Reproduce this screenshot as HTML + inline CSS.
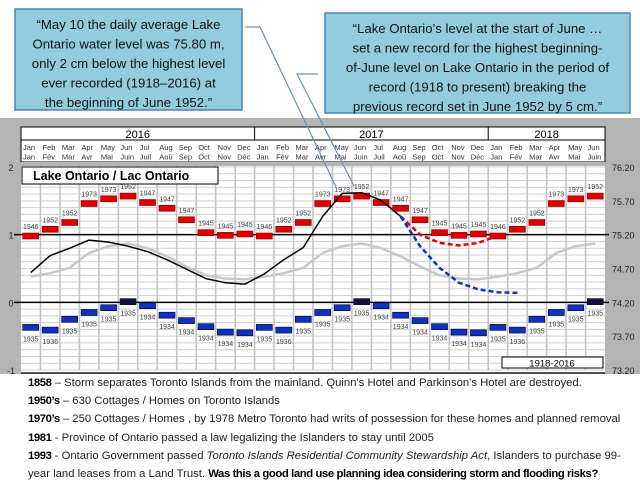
<!DOCTYPE html>
<html><head><meta charset="utf-8"><style>
html,body{margin:0;padding:0;background:#fff;width:640px;height:480px;overflow:hidden}
#root{position:relative;width:640px;height:480px}
svg{position:absolute;left:0;top:0}
.notes{position:absolute;left:28px;top:374px;font-family:"Liberation Sans",sans-serif;font-size:11.3px;line-height:18.2px;color:#222;letter-spacing:0px;white-space:nowrap}
.notes b{color:#000;letter-spacing:-0.4px}
</style></head><body><div id="root">
<svg id="chart" width="640" height="480"></svg>
<div class="notes">
<div><b>1858</b> – Storm separates Toronto Islands from the mainland. Quinn's Hotel and Parkinson's Hotel are destroyed.</div>
<div><b>1950’s</b> – 630 Cottages / Homes on Toronto Islands</div>
<div><b>1970’s</b> – 250 Cottages / Homes , by 1978 Metro Toronto had writs of possession for these homes and planned removal</div>
<div><b>1981</b> - Province of Ontario passed a law legalizing the  Islanders to stay until  2005</div>
<div><b>1993</b> - Ontario Government passed <i>Toronto Islands Residential Community Stewardship Act</i>, Islanders to purchase 99-</div>
<div>year land leases from a Land Trust. <b>Was this a good land use planning idea considering storm and flooding risks?</b></div>
</div>
</div>
<script>
const monthsEn=["Jan","Feb","Mar","Apr","May","Jun","Jul","Aug","Sep","Oct","Nov","Dec"];
const monthsFr=["Jan","Fév","Mar","Avr","Mai","Juin","Juil","Aoû","Sep","Oct","Nov","Déc"];
const years=["2016","2017","2018"];
const recordHigh=[0.98,1.08,1.18,1.46,1.53,1.57,1.475,1.39,1.22,1.03,0.99,1.01];
const recordHighYear=["1946","1952","1952","1973","1973","1952","1947","1947","1947","1945","1945","1945"];
const recordLow=[-0.37,-0.41,-0.25,-0.15,-0.08,0.01,-0.05,-0.19,-0.27,-0.36,-0.44,-0.45];
const recordLowYear=["1935","1936","1935","1935","1935","1935","1934","1934","1934","1934","1934","1934"];
const average=[0.38,0.43,0.51,0.73,0.83,0.87,0.80,0.68,0.53,0.40,0.35,0.34];
const actual=[0.44,0.69,0.80,0.92,0.89,0.83,0.75,0.63,0.49,0.35,0.29,0.27,0.42,0.63,0.81,1.27,1.61,1.62,1.51,1.27];
const forecastLow=[1.27,0.83,0.51,0.29,0.19,0.15,0.14];
const forecastHigh=[1.27,1.0,0.88,0.84,0.88,0.985];
const forecastStart=19;
const leftTicks=[2,1,0,-1];
const rightTicks=["76.20","75.70","75.20","74.70","74.20","73.70","73.20"];
const NM=30;
const X0=21,X1=605,Y0=167,Y1=370;
const cw=(X1-X0)/NM;
const y=v=>Y0+(2-v)*(Y1-Y0)/3;
const xc=i=>X0+cw*(i+0.5);
const svg=document.getElementById('chart');
const NS="http://www.w3.org/2000/svg";
function mk(tag,attrs,parent){const e=document.createElementNS(NS,tag);for(const k in attrs)e.setAttribute(k,attrs[k]);(parent||svg).appendChild(e);return e;}
function txt(s,attrs){const e=mk('text',Object.assign({'font-family':'Liberation Sans, sans-serif'},attrs));e.textContent=s;return e;}

let e=mk('rect',{x:0,y:118,width:640,height:256,fill:'#b4b4b4'});


e=mk('rect',{x:X0,y:127,width:X1-X0,height:Y1-127+3,fill:'#fff'});


for(let k=-10;k<=20;k++){const v=k/10;e=mk('line',{x1:X0,x2:X1,y1:y(v),y2:y(v),stroke:'#cfcfcf','stroke-width':1});

}
for(let i=1;i<NM;i++){e=mk('line',{x1:X0+cw*i,x2:X0+cw*i,y1:140,y2:Y1,stroke:'#c4c4c4','stroke-width':1.6});

}
e=mk('rect',{x:X0,y:127,width:X1-X0,height:35,fill:'#fff',stroke:'#000','stroke-width':1});


mk('line',{x1:X0,x2:X1,y1:140,y2:140,stroke:'#000'});
const yearSpans=[[0,12],[12,24],[24,30]];
yearSpans.forEach((s,k)=>{
  if(k>0)mk('line',{x1:X0+cw*s[0],x2:X0+cw*s[0],y1:127,y2:140,stroke:'#000'});
  e=txt(years[k],{x:X0+cw*(s[0]+s[1])/2,y:138,'font-size':11,'text-anchor':'middle',fill:'#000'});
  
  
});
for(let i=0;i<NM;i++){
  const m=i%12;
  e=txt(monthsEn[m],{x:X0+cw*i+2,y:150,'font-size':7.5,fill:'#333'});
  
  
  e=txt(monthsFr[m],{x:X0+cw*i+2,y:159.5,'font-size':7.5,fill:'#333'});
  
  
}
mk('rect',{x:X0,y:162,width:X1-X0,height:4,fill:'#b4b4b4'});
[1,0].forEach(v=>{e=mk('line',{x1:14,x2:X1+4,y1:y(v),y2:y(v),stroke:'#000','stroke-width':1.5});

});
mk('line',{x1:X0,x2:X1,y1:Y1+3,y2:Y1+3,stroke:'#222','stroke-width':1.5});
leftTicks.forEach(v=>{e=txt(String(v),{x:11,y:y(v)+4,'font-size':9,'text-anchor':'middle',fill:'#222'});

});
rightTicks.forEach(s=>{const v=parseFloat(s)-74.2;e=txt(s,{x:612,y:y(v)+4,'font-size':9,fill:'#222'});

});
e=mk('rect',{x:X0+1,y:167,width:196,height:17,fill:'#fff',stroke:'#000'});


e=txt('Lake Ontario / Lac Ontario',{x:X0+12,y:180,'font-size':12.5,'font-weight':'bold',fill:'#000'});


e=mk('rect',{x:502,y:357,width:101,height:11,fill:'#fff',stroke:'#000'});


e=txt('1918-2016',{x:552,y:366.5,'font-size':9.5,'text-anchor':'middle',fill:'#000'});


function path(vals,start,attrs){let d='';vals.forEach((v,k)=>{d+=(k?'L':'M')+xc(start+k).toFixed(1)+' '+y(v).toFixed(1);});return mk('path',Object.assign({d:d,fill:'none'},attrs));}
const avgSeries=[];for(let i=0;i<NM;i++)avgSeries.push(average[i%12]);
e=path(avgSeries,0,{stroke:'#c8c8c8','stroke-width':2.5,'stroke-linejoin':'round'});


for(let i=0;i<NM;i++){
  const m=i%12;
  e=mk('rect',{x:xc(i)-8,y:y(recordHigh[m])-3,width:16,height:6,fill:'#e00000',stroke:'#800',"stroke-width":0.6});
  
  
  e=txt(recordHighYear[m],{x:xc(i),y:y(recordHigh[m])-7,'font-size':7,'text-anchor':'middle',fill:'#444'});
  
  
  const lowC=m===5?'#101040':'#1030c0';
  e=mk('rect',{x:xc(i)-8,y:y(recordLow[m])-3,width:16,height:6,fill:lowC,stroke:'#002','stroke-width':0.6});
  
  
  e=txt(recordLowYear[m],{x:xc(i),y:y(recordLow[m])+14,'font-size':7,'text-anchor':'middle',fill:'#444'});
  
  
}
e=path(actual,0,{stroke:'#000','stroke-width':1.5,'stroke-linejoin':'round'});


e=path(forecastHigh,forecastStart,{stroke:'#e00000','stroke-width':2.5,'stroke-dasharray':'5 3'});


e=path(forecastLow,forecastStart,{stroke:'#1030d0','stroke-width':2.5,'stroke-dasharray':'5 3'});


function callout(x,yy,w,h,lines,name){
  const g=mk('g',{});
  
  
  mk('rect',{x:x,y:yy,width:w,height:h,fill:'#93cddd',stroke:'#4f81bd','stroke-width':1.5},g);
  lines.forEach((s,k)=>{const t=mk('text',{x:x+w/2,y:yy+20+k*19.5,'font-family':'Liberation Sans, sans-serif','font-size':13.2,'text-anchor':'middle',fill:'#111'},g);t.textContent=s;});
}
callout(15,9,227,101,["“May 10 the daily average Lake","Ontario water level was 75.80 m,","only 2 cm below the highest level","ever recorded (1918–2016) at","the beginning of June 1952.”"],'callout-may');
callout(325,13,305,100,["“Lake Ontario’s level at the start of June …","set a new record for the highest beginning-","of-June level on Lake Ontario in the period of","record (1918 to present) breaking the","previous record set in June 1952 by 5 cm.”"],'callout-june');
e=mk('polyline',{points:'245,27 260,27 337,189',fill:'none',stroke:'#6f8fb0','stroke-width':1.2});


e=mk('polyline',{points:'318,74 297,74 354,186',fill:'none',stroke:'#6f8fb0','stroke-width':1.2});


</script>
</body></html>
